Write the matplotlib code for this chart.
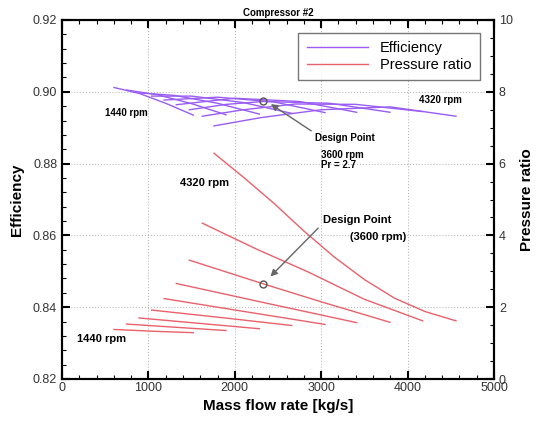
import matplotlib
matplotlib.use("Agg")
import matplotlib.pyplot as plt
from matplotlib.ticker import MultipleLocator
from matplotlib.lines import Line2D

plt.rcParams['font.family'] = ['Liberation Sans', 'DejaVu Sans']

# ---- data ----
speeds = [1440, 1800, 2160, 2520, 2880, 3240, 3600, 3960, 4320]

pr_flow = [
    [602, 1060, 1520],
    [748, 1320, 1898],
    [891, 1590, 2284],
    [1038, 1850, 2658],
    [1181, 2110, 3044],
    [1323, 2370, 3410],
    [1474, 2330, 3000, 3796],
    [1624, 2250, 2850, 3500, 4174],
    [1759, 2100, 2450, 2800, 3150, 3500, 3850, 4200, 4560],
]
pr_vals = [
    [1.38, 1.33, 1.29],
    [1.53, 1.44, 1.35],
    [1.70, 1.55, 1.40],
    [1.92, 1.71, 1.49],
    [2.24, 1.88, 1.52],
    [2.66, 2.11, 1.57],
    [3.31, 2.65, 2.15, 1.58],
    [4.34, 3.62, 2.98, 2.22, 1.62],
    [6.29, 5.62, 4.90, 4.12, 3.40, 2.77, 2.25, 1.88, 1.62],
]

eff_flow = [
    [602, 900, 1200, 1520],
    [748, 1100, 1500, 1898],
    [891, 1300, 1800, 2284],
    [1038, 1500, 2100, 2658],
    [1181, 1800, 2450, 3044],
    [1323, 2000, 2750, 3410],
    [1474, 1900, 2330, 3100, 3796],
    [1624, 2100, 2700, 3400, 4174],
    [1759, 2300, 3000, 3800, 4560],
]
eff_vals = [
    [0.9012, 0.8995, 0.8968, 0.8935],
    [0.9005, 0.8992, 0.8967, 0.8936],
    [0.8997, 0.8990, 0.8968, 0.8938],
    [0.8988, 0.8988, 0.8970, 0.8940],
    [0.8977, 0.8985, 0.8972, 0.8942],
    [0.8964, 0.8982, 0.8973, 0.8943],
    [0.8950, 0.8965, 0.8973, 0.8968, 0.8943],
    [0.8932, 0.8950, 0.8966, 0.8965, 0.8945],
    [0.8905, 0.8928, 0.8950, 0.8958, 0.8932],
]

design_flow = 2330
design_eff = 0.8973
design_pr = 2.65

eff_color = '#9A5CF2'
pr_color = '#E8616B'

fig = plt.figure(figsize=(5.42, 4.25), dpi=100)
ax = fig.add_axes([62/542, 1-379/425, (494-62)/542, (379-20)/425])
ax2 = ax.twinx()

for xs, ys in zip(eff_flow, eff_vals):
    ax.plot(xs, ys, color=eff_color, lw=1.0)
for xs, ys in zip(pr_flow, pr_vals):
    ax2.plot(xs, ys, color=pr_color, lw=1.0)

ax.plot([design_flow], [design_eff], 'o', mfc='none', mec='#555555', ms=5, mew=1.0, zorder=5)
ax2.plot([design_flow], [design_pr], 'o', mfc='none', mec='#555555', ms=5, mew=1.0, zorder=5)

ax.set_xlim(0, 5000)
ax.set_ylim(0.82, 0.92)
ax2.set_ylim(0, 10)

ax.xaxis.set_major_locator(MultipleLocator(1000))
ax.xaxis.set_minor_locator(MultipleLocator(200))
ax.yaxis.set_major_locator(MultipleLocator(0.02))
ax.yaxis.set_minor_locator(MultipleLocator(0.004))
ax2.yaxis.set_major_locator(MultipleLocator(2))
ax2.yaxis.set_minor_locator(MultipleLocator(0.5))
ax.yaxis.set_major_formatter(matplotlib.ticker.FormatStrFormatter('%.2f'))

ax.grid(True, which='major', color='#bbbbbb', linestyle=':', linewidth=0.8)
ax.set_axisbelow(True)

for a in (ax, ax2):
    a.tick_params(which='both', direction='in', labelsize=9, labelcolor='#333333')
    a.tick_params(which='major', length=6, width=1.5)
    a.tick_params(which='minor', length=3, width=0.8)
    for s in a.spines.values():
        s.set_linewidth(1.5)
ax.tick_params(which='both', top=True)
ax.tick_params(axis='x', pad=2)

ax.set_xlabel('Mass flow rate [kg/s]', fontsize=11, fontweight='bold', labelpad=4)
ax.set_ylabel('Efficiency', fontsize=11, fontweight='bold', labelpad=6)
ax2.set_ylabel('Pressure ratio', fontsize=11, fontweight='bold', labelpad=5)
ax.set_title('Compressor #2', fontsize=7, fontweight='bold', pad=3)

# annotations
ax.text(500, 0.8942, '1440 rpm', fontsize=7, fontweight='bold', va='center')
ax.text(4130, 0.8977, '4320 rpm', fontsize=7, fontweight='bold', va='center')
ax.annotate('Design Point', xy=(design_flow + 60, design_eff - 0.0003), xytext=(2930, 0.8870),
            fontsize=7, fontweight='bold', va='center',
            arrowprops=dict(arrowstyle='-|>', color='#666666', lw=1.0, mutation_scale=10,
                            shrinkA=1, shrinkB=2, relpos=(0.0, 1.0)))
ax.text(3000, 0.8824, '3600 rpm', fontsize=7, fontweight='bold', va='center')
ax.text(3000, 0.8797, 'Pr = 2.7', fontsize=7, fontweight='bold', va='center')

ax2.text(1360, 5.47, '4320 rpm', fontsize=8, fontweight='bold', va='center')
ax2.annotate('Design Point', xy=(design_flow + 60, design_pr + 0.15), xytext=(3020, 4.42),
             fontsize=8, fontweight='bold', va='center',
             arrowprops=dict(arrowstyle='-|>', color='#666666', lw=1.0, mutation_scale=10,
                             shrinkA=2, shrinkB=2, relpos=(0.0, 0.2)))
ax2.text(3330, 3.96, '(3600 rpm)', fontsize=8, fontweight='bold', va='center')
ax2.text(170, 1.12, '1440 rpm', fontsize=8, fontweight='bold', va='center')

# legend
handles = [Line2D([], [], color=eff_color, lw=1.0), Line2D([], [], color=pr_color, lw=1.0)]
leg = ax2.legend(handles, ['Efficiency', 'Pressure ratio'], loc='upper right',
                 bbox_to_anchor=(0.985, 0.985), fontsize=10.5, frameon=True, fancybox=False,
                 edgecolor='#555555', handlelength=4.2, handletextpad=0.8,
                 borderpad=0.6, labelspacing=0.15)
leg.get_frame().set_linewidth(1.0)

fig.savefig('out.png', dpi=100)
